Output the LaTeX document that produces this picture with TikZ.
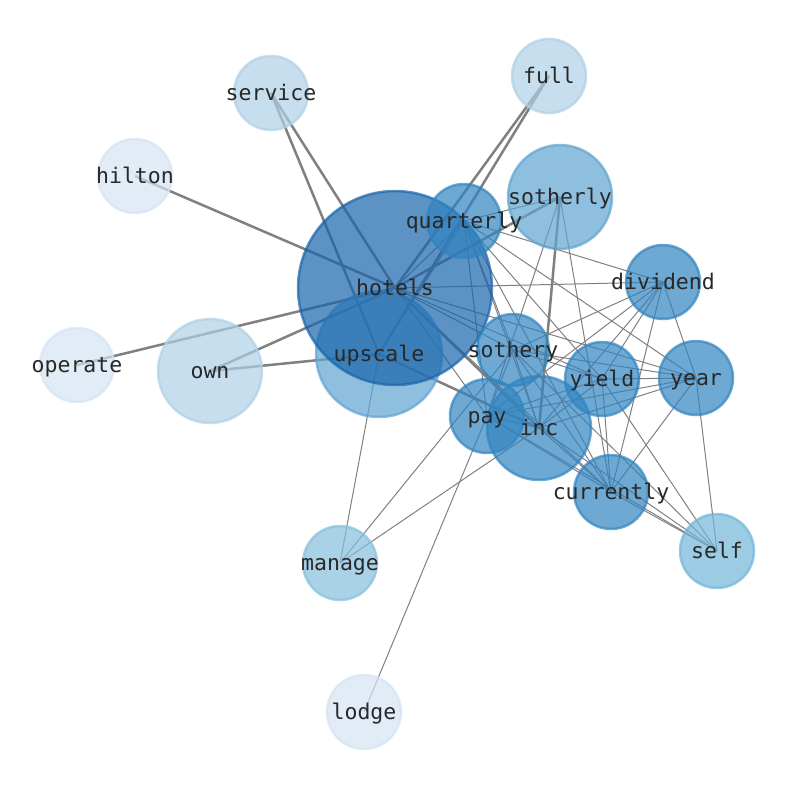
\documentclass[tikz,border=0pt]{standalone}
\usepackage{fontspec}
\setmonofont{DejaVu Sans Mono}
\pgfdeclarelayer{edgelayer}
\pgfdeclarelayer{labellayer}
\pgfsetlayers{edgelayer,main,labellayer}
\definecolor{edgec}{RGB}{128,128,128}
\definecolor{labelc}{RGB}{40,40,40}
\definecolor{cHot}{RGB}{23,100,171}
\definecolor{cUp}{RGB}{95,164,209}
\definecolor{cMid}{RGB}{49,132,192}
\definecolor{cLt}{RGB}{174,208,229}
\definecolor{cVlt}{RGB}{212,228,242}
\definecolor{cSelf}{RGB}{114,181,216}
\definecolor{cMan}{RGB}{134,191,219}
\tikzset{
  vtx/.style={circle, inner sep=0pt, minimum size=#1, line width=2.5pt, fill opacity=0.7, draw opacity=0.7},
  lbl/.style={font=\fontsize{21.5}{26}\selectfont\ttfamily, text=labelc, text height=0.76em, text depth=0.24em, inner sep=0pt, yshift=-5pt},
  lightedge/.style={draw=edgec, line width=1pt},
  heavyedge/.style={draw=edgec, line width=2.5pt},
}
\begin{document}
\begin{tikzpicture}[x=1pt,y=-1pt]
\useasboundingbox (0,0) rectangle (794,790);
% nodes
\node[vtx=126pt, fill=cUp, draw=cUp] (upscale) at (379,354) {};
\node[vtx=194pt, fill=cHot, draw=cHot] (hotels) at (395,288) {};
\node[vtx=104pt, fill=cLt, draw=cLt] (own) at (210,371) {};
\node[vtx=74pt, fill=cVlt, draw=cVlt] (operate) at (77,365) {};
\node[vtx=74pt, fill=cVlt, draw=cVlt] (hilton) at (135,176) {};
\node[vtx=74pt, fill=cLt, draw=cLt] (service) at (271,93) {};
\node[vtx=74pt, fill=cLt, draw=cLt] (full) at (549,76) {};
\node[vtx=104pt, fill=cUp, draw=cUp] (sotherly) at (560,197) {};
\node[vtx=74pt, fill=cMid, draw=cMid] (quarterly) at (464,221) {};
\node[vtx=74pt, fill=cMid, draw=cMid] (dividend) at (663,282) {};
\node[vtx=72pt, fill=cMid, draw=cMid] (sothery) at (513,350) {};
\node[vtx=74pt, fill=cMid, draw=cMid] (yield) at (602,379) {};
\node[vtx=74pt, fill=cMid, draw=cMid] (year) at (696,378) {};
\node[vtx=104pt, fill=cMid, draw=cMid] (inc) at (539,428) {};
\node[vtx=74pt, fill=cMid, draw=cMid] (pay) at (487,416) {};
\node[vtx=74pt, fill=cMid, draw=cMid] (currently) at (611,492) {};
\node[vtx=74pt, fill=cSelf, draw=cSelf] (self) at (717,551) {};
\node[vtx=74pt, fill=cMan, draw=cMan] (manage) at (340,563) {};
\node[vtx=74pt, fill=cVlt, draw=cVlt] (lodge) at (364,712) {};
% edges
\begin{pgfonlayer}{edgelayer}
\foreach \a/\b in {hotels/hilton, hotels/service, upscale/service, hotels/operate, hotels/own, upscale/own, hotels/full, upscale/full, hotels/inc, upscale/inc, sotherly/inc, sotherly/hotels}
  \draw[heavyedge] (\a.center) -- (\b.center);
\foreach \a/\b in {quarterly/hotels, quarterly/upscale, quarterly/sotherly, quarterly/dividend, quarterly/sothery, quarterly/yield, quarterly/year, quarterly/pay, quarterly/inc, quarterly/currently,
  sotherly/pay, sotherly/currently,
  dividend/hotels, dividend/sothery, dividend/pay, dividend/inc, dividend/yield, dividend/currently, dividend/year,
  sothery/hotels, sothery/yield, sothery/year, sothery/currently, sothery/pay, sothery/inc, sothery/self, sothery/manage,
  yield/hotels, yield/year, yield/currently, yield/self, yield/pay, yield/inc,
  year/hotels, year/self, year/currently, year/pay, year/inc,
  pay/hotels, pay/inc, pay/currently, pay/self, pay/lodge,
  inc/currently, inc/self, inc/manage,
  currently/hotels, currently/self,
  manage/upscale}
  \draw[lightedge] (\a.center) -- (\b.center);
\end{pgfonlayer}
% labels
\begin{pgfonlayer}{labellayer}
\foreach \n in {hotels,upscale,own,operate,hilton,service,full,sotherly,quarterly,dividend,sothery,yield,year,pay,inc,currently,self,manage,lodge}
  \node[lbl] (\n-l) at (\n.center) {\n};
\end{pgfonlayer}
\end{tikzpicture}
\end{document}
